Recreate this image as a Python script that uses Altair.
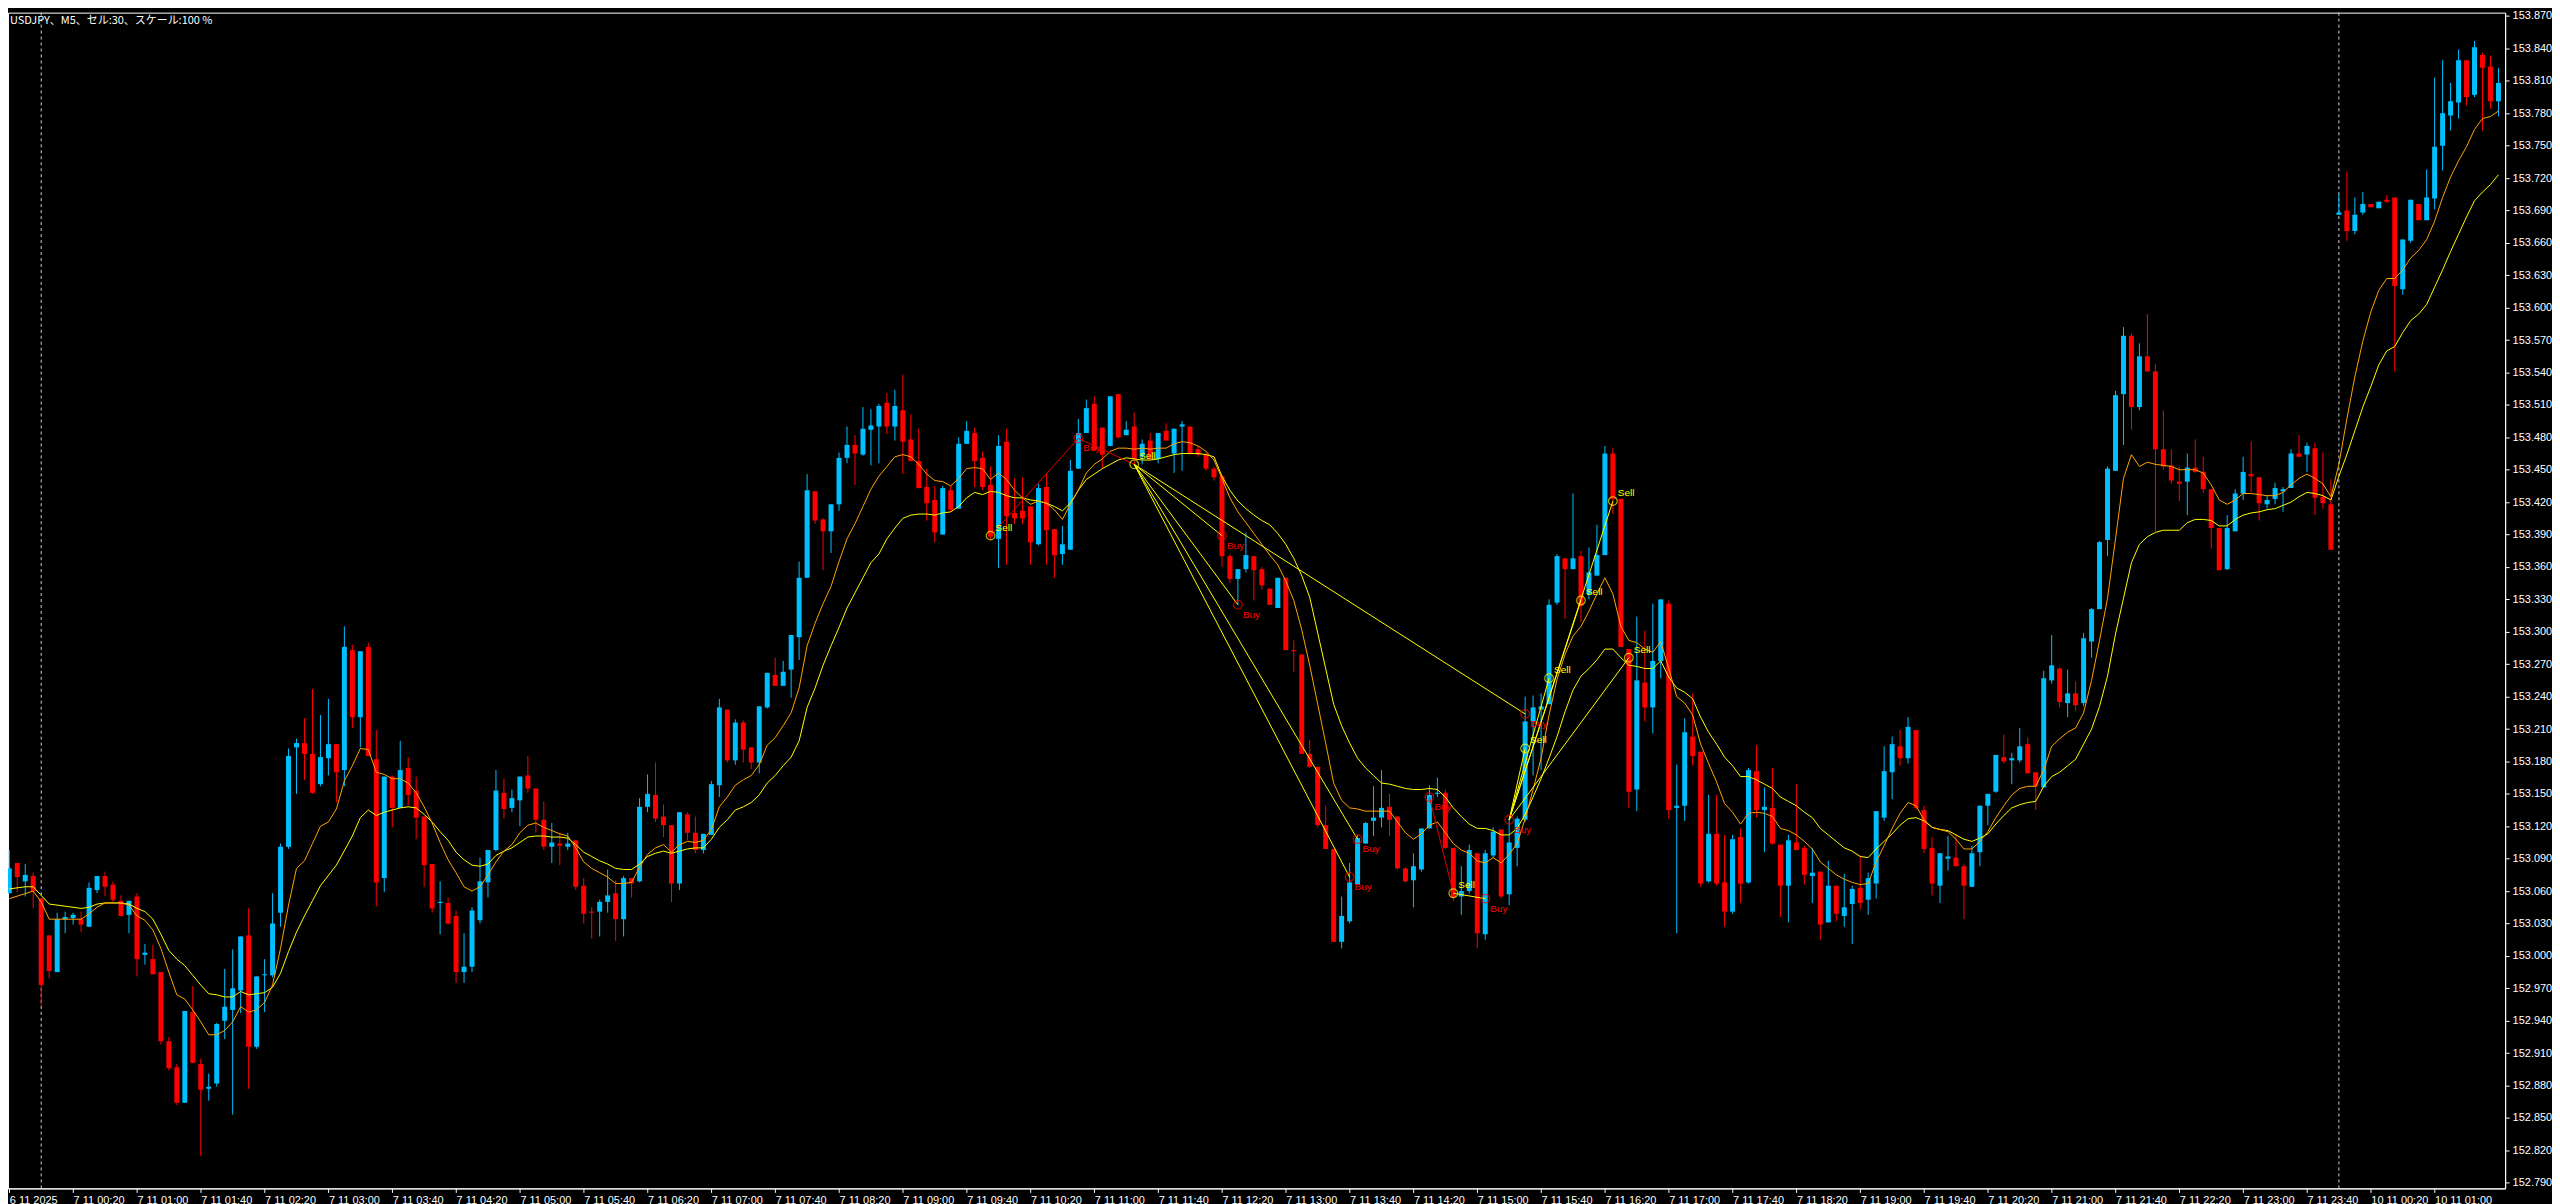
import json
import altair as alt
import pandas as pd

# ---------------- data (USDJPY M5) ----------------
opens = [
153.058,153.086,153.069,153.074,153.053,153.019,152.985,153.034,153.035,153.034,
153.027,153.061,153.074,153.066,153.051,153.038,153.055,153.001,152.997,152.985,
152.921,152.897,152.864,152.948,152.900,152.877,152.882,152.940,152.950,152.968,
153.019,152.916,152.982,152.982,153.040,153.101,153.193,153.197,153.187,153.159,
153.183,153.196,153.172,153.283,153.221,153.286,153.182,153.072,153.166,153.137,
153.174,153.153,153.129,153.085,153.049,153.049,153.037,152.985,152.990,153.033,
153.068,153.098,153.151,153.137,153.144,153.167,153.155,153.126,153.101,153.104,
153.101,153.107,153.065,153.041,153.041,153.050,153.058,153.034,153.072,153.069,
153.138,153.149,153.129,153.121,153.067,153.131,153.114,153.098,153.112,153.158,
153.228,153.181,153.216,153.193,153.179,153.230,153.260,153.250,153.265,153.295,
153.350,153.430,153.404,153.393,153.418,153.461,153.473,153.464,153.487,153.490,
153.512,153.490,153.505,153.478,153.458,153.434,153.422,153.390,153.431,153.414,
153.474,153.484,153.461,153.436,153.386,153.476,153.410,153.412,153.416,153.381,
153.434,153.395,153.372,153.376,153.451,153.484,153.511,153.489,153.472,153.520,
153.482,153.490,153.462,153.477,153.460,153.486,153.465,153.490,153.490,153.469,
153.464,153.451,153.444,153.370,153.349,153.358,153.370,153.358,153.340,153.322,
153.350,153.283,153.279,153.187,153.175,153.121,153.099,153.013,153.032,153.066,
153.104,153.125,153.128,153.138,153.129,153.081,153.070,153.080,153.118,153.150,
153.151,153.100,153.055,153.060,153.095,153.020,153.093,153.117,153.057,153.100,
153.126,153.217,153.228,153.233,153.327,153.368,153.358,153.370,153.335,153.352,
153.371,153.465,153.423,153.284,153.154,153.253,153.230,153.273,153.326,153.137,
153.139,153.203,153.189,153.069,153.113,153.068,153.041,153.110,153.068,153.171,
153.135,153.137,153.103,153.065,153.105,153.100,153.074,153.078,153.031,153.065,
153.037,153.048,153.063,153.052,153.067,153.128,153.170,153.194,153.183,153.209,
153.135,153.100,153.065,153.090,153.091,153.083,153.064,153.096,153.139,153.152,
153.184,153.181,153.181,153.196,153.170,153.156,153.255,153.266,153.234,153.243,
153.234,153.291,153.321,153.385,153.449,153.520,153.574,153.508,153.555,153.541,
153.469,153.454,153.439,153.439,153.452,153.448,153.432,153.396,153.358,153.393,
153.428,153.446,153.443,153.418,153.423,153.430,153.433,153.465,153.464,153.470,
153.425,153.418,153.686,153.690,153.671,153.688,153.696,153.692,153.700,153.702,
153.617,153.662,153.696,153.681,153.701,153.750,153.778,153.790,153.829,153.797,
153.834,153.823,153.791]
highs = [
153.098,153.086,153.085,153.077,153.053,153.019,153.040,153.041,153.040,153.041,
153.068,153.074,153.078,153.069,153.056,153.051,153.058,153.011,153.010,152.985,
152.925,152.900,152.949,152.972,152.905,152.891,152.938,152.988,153.006,153.018,
153.044,152.981,152.997,153.058,153.104,153.192,153.201,153.220,153.247,153.223,
153.238,153.196,153.305,153.288,153.282,153.290,153.209,153.166,153.167,153.199,
153.184,153.166,153.129,153.085,153.069,153.054,153.042,153.021,153.045,153.091,
153.098,153.172,153.164,153.154,153.166,153.185,153.155,153.143,153.123,153.114,
153.114,153.107,153.072,153.045,153.052,153.080,153.070,153.074,153.072,153.146,
153.168,153.179,153.140,153.121,153.133,153.133,153.129,153.113,153.162,153.238,
153.228,153.219,153.218,153.193,153.231,153.262,153.276,153.273,153.297,153.365,
153.446,153.430,153.405,153.418,153.466,153.490,153.482,153.508,153.506,153.511,
153.521,153.524,153.538,153.501,153.488,153.451,153.435,153.435,153.435,153.480,
153.495,153.489,153.467,153.453,153.482,153.488,153.442,153.443,153.416,153.437,
153.447,153.395,153.398,153.459,153.497,153.515,153.518,153.489,153.518,153.520,
153.495,153.503,153.478,153.484,153.484,153.493,153.488,153.495,153.490,153.472,
153.466,153.453,153.445,153.372,153.358,153.392,153.370,153.360,153.340,153.350,
153.350,153.292,153.279,153.200,153.175,153.139,153.099,153.055,153.086,153.112,
153.124,153.157,153.172,153.150,153.129,153.082,153.095,153.118,153.158,153.165,
153.154,153.100,153.083,153.103,153.095,153.098,153.119,153.117,153.127,153.129,
153.240,153.241,153.243,153.330,153.372,153.368,153.428,153.375,153.378,153.399,
153.472,153.470,153.423,153.284,153.314,153.301,153.326,153.330,153.329,153.177,
153.220,153.243,153.189,153.149,153.149,153.112,153.112,153.118,153.174,153.195,
153.156,153.174,153.103,153.112,153.159,153.102,153.100,153.078,153.088,153.065,
153.076,153.065,153.093,153.077,153.134,153.194,153.203,153.209,153.221,153.209,
153.139,153.110,153.095,153.111,153.113,153.085,153.102,153.139,153.150,153.186,
153.205,153.188,153.211,153.202,153.170,153.264,153.297,153.267,153.265,153.254,
153.299,153.322,153.384,153.453,153.523,153.582,153.576,153.567,153.594,153.548,
153.505,153.469,153.453,153.465,153.478,153.462,153.432,153.396,153.408,153.432,
153.462,153.476,153.443,153.426,153.438,153.434,153.469,153.482,153.475,153.475,
153.466,153.441,153.705,153.726,153.702,153.707,153.696,153.698,153.704,153.702,
153.663,153.700,153.696,153.728,153.813,153.829,153.808,153.839,153.829,153.847,
153.836,153.833,153.822]
lows = [
153.058,153.059,153.055,153.044,152.954,152.979,152.985,153.021,153.029,153.022,
153.027,153.058,153.055,153.050,153.037,153.021,152.981,152.992,152.983,152.918,
152.894,152.862,152.864,152.901,152.815,152.866,152.879,152.923,152.853,152.947,
152.877,152.914,152.948,152.980,153.027,153.099,153.150,153.163,153.150,153.157,
153.167,153.142,153.157,153.211,153.193,153.185,153.046,153.059,153.119,153.137,
153.139,153.108,153.064,153.040,153.020,153.029,152.975,152.975,152.985,153.030,
153.054,153.097,153.127,153.133,153.120,153.151,153.114,153.098,153.086,153.084,
153.098,153.061,153.030,153.016,153.018,153.040,153.014,153.018,153.054,153.068,
153.133,153.124,153.110,153.050,153.061,153.107,153.095,153.095,153.112,153.147,
153.179,153.177,153.179,153.173,153.169,153.229,153.250,153.250,153.239,153.274,
153.350,153.400,153.357,153.373,153.412,153.456,153.436,153.463,153.454,153.456,
153.483,153.477,153.446,153.458,153.433,153.403,153.383,153.390,153.411,153.414,
153.474,153.434,153.431,153.385,153.359,153.362,153.400,153.400,153.362,153.380,
153.362,153.350,153.362,153.376,153.451,153.484,153.468,153.451,153.472,153.479,
153.482,153.455,153.455,153.459,153.456,153.477,153.447,153.449,153.464,153.462,
153.449,153.440,153.360,153.345,153.325,153.355,153.329,153.339,153.325,153.322,
153.283,153.263,153.187,153.174,153.119,153.099,153.013,153.007,153.030,153.066,
153.104,153.111,153.119,153.111,153.080,153.068,153.045,153.078,153.118,153.147,
153.099,153.051,153.038,153.058,153.007,153.015,153.091,153.053,153.047,153.083,
153.124,153.167,153.172,153.233,153.325,153.312,153.358,153.309,153.330,153.352,
153.371,153.409,153.286,153.137,153.134,153.217,153.206,153.257,153.127,153.021,
153.125,153.176,153.064,153.068,153.065,153.027,153.039,153.049,153.067,153.128,
153.096,153.103,153.036,153.031,153.098,153.066,153.049,153.015,153.031,153.032,
153.027,153.011,153.043,153.038,153.053,153.125,153.145,153.176,153.178,153.135,
153.095,153.056,153.049,153.079,153.083,153.034,153.064,153.083,153.121,153.151,
153.178,153.159,153.179,153.169,153.135,153.156,153.252,153.230,153.221,153.227,
153.231,153.276,153.321,153.370,153.449,153.473,153.487,153.505,153.541,153.393,
153.450,153.437,153.421,153.408,153.447,153.429,153.377,153.357,153.357,153.393,
153.422,153.429,153.403,153.414,153.418,153.411,153.433,153.462,153.448,153.408,
153.414,153.376,153.686,153.662,153.668,153.686,153.693,153.692,153.697,153.541,
153.612,153.660,153.681,153.681,153.691,153.727,153.764,153.775,153.787,153.795,
153.764,153.784,153.777]
closes = [
153.081,153.073,153.075,153.060,152.973,152.986,153.034,153.036,153.038,153.029,
153.063,153.074,153.064,153.052,153.037,153.051,152.997,153.003,152.983,152.921,
152.896,152.864,152.949,152.901,152.876,152.879,152.937,152.953,152.970,153.018,
152.916,152.981,152.983,153.030,153.101,153.185,153.197,153.187,153.151,153.184,
153.196,153.170,153.286,153.221,153.282,153.185,153.068,153.166,153.137,153.172,
153.149,153.128,153.084,153.044,153.050,153.030,152.985,152.990,153.042,153.069,
153.098,153.153,153.136,153.146,153.166,153.155,153.126,153.101,153.105,153.102,
153.104,153.064,153.039,153.040,153.050,153.056,153.034,153.072,153.067,153.138,
153.150,153.127,153.121,153.067,153.133,153.114,153.098,153.113,153.159,153.230,
153.181,153.216,153.191,153.179,153.231,153.262,153.250,153.263,153.297,153.350,
153.431,153.403,153.393,153.418,153.461,153.473,153.465,153.488,153.491,153.509,
153.490,153.509,153.476,153.458,153.433,153.419,153.392,153.433,153.413,153.474,
153.486,153.458,153.434,153.388,153.472,153.407,153.405,153.405,153.383,153.433,
153.394,153.371,153.381,153.449,153.484,153.507,153.468,153.464,153.518,153.480,
153.487,153.460,153.474,153.460,153.484,153.477,153.488,153.492,153.465,153.464,
153.451,153.443,153.370,153.349,153.358,153.371,153.357,153.343,153.325,153.350,
153.283,153.282,153.187,153.175,153.121,153.099,153.013,153.037,153.068,153.109,
153.123,153.128,153.137,153.126,153.081,153.069,153.083,153.118,153.149,153.151,
153.100,153.054,153.060,153.098,153.021,153.095,153.115,153.055,153.105,153.127,
153.217,153.230,153.231,153.325,153.370,153.358,153.368,153.324,153.355,153.371,
153.465,153.423,153.286,153.152,153.255,153.230,153.273,153.330,153.135,153.139,
153.207,153.185,153.067,153.113,153.067,153.041,153.108,153.067,153.172,153.135,
153.138,153.104,153.065,153.107,153.098,153.075,153.077,153.029,153.065,153.039,
153.045,153.062,153.049,153.072,153.134,153.171,153.196,153.183,153.212,153.137,
153.099,153.067,153.095,153.092,153.083,153.065,153.095,153.139,153.150,153.186,
153.180,153.183,153.194,153.169,153.157,153.257,153.269,153.235,153.243,153.232,
153.294,153.321,153.383,153.451,153.519,153.574,153.508,153.555,153.541,153.469,
153.453,153.440,153.437,153.452,153.448,153.432,153.396,153.357,153.396,153.428,
153.448,153.444,153.419,153.422,153.433,153.432,153.465,153.462,153.472,153.424,
153.419,153.376,153.688,153.671,153.686,153.696,153.693,153.698,153.698,153.620,
153.663,153.700,153.681,153.702,153.749,153.780,153.791,153.829,153.795,153.841,
153.822,153.791,153.808]

N = None
ma_fast = [
153.053,N,N,153.060,153.050,153.034,N,153.034,N,153.034,
153.039,153.045,153.049,N,153.049,153.047,153.037,153.033,153.024,153.007,
152.985,152.964,152.960,152.950,152.939,152.927,152.927,152.931,152.939,152.953,
152.948,152.950,152.957,152.973,153.007,153.047,153.081,153.088,153.104,153.120,
153.124,153.136,153.162,153.176,153.192,153.191,153.170,153.168,153.164,153.164,
153.160,153.151,153.138,153.123,153.105,153.089,153.077,153.064,153.060,153.064,
153.075,153.087,153.097,153.103,153.114,153.121,153.123,153.119,153.116,153.113,
153.111,153.100,153.087,153.081,153.077,153.073,153.067,153.067,153.068,153.082,
153.094,153.100,153.103,153.096,153.103,153.106,153.105,153.107,153.117,153.138,
153.147,153.158,153.163,153.167,153.177,153.195,153.202,153.213,153.225,153.248,
153.287,153.308,153.326,153.342,153.365,153.386,153.400,153.416,153.432,153.444,
153.453,153.462,153.464,153.462,153.455,153.446,153.440,153.439,153.435,153.442,
153.451,153.452,153.451,153.441,153.447,153.441,153.431,153.424,153.418,153.421,
153.419,153.413,153.404,153.418,153.431,153.447,153.455,153.460,153.467,153.470,
153.470,153.469,153.470,153.469,153.470,153.470,153.474,153.476,153.475,153.472,
153.467,153.459,153.442,153.424,153.411,153.401,153.391,153.381,153.371,153.362,
153.347,153.329,153.302,153.269,153.233,153.197,153.160,153.144,153.137,153.136,
153.134,153.134,153.134,153.134,153.124,153.114,153.108,153.113,153.121,153.124,
153.114,153.104,153.098,153.095,153.088,153.086,153.091,153.086,153.094,153.104,
153.127,153.154,153.183,153.223,153.256,153.279,153.296,153.305,153.319,153.335,
153.350,153.335,153.305,153.292,153.290,153.284,153.281,153.291,153.266,153.240,
153.234,153.223,153.196,153.178,153.161,153.141,153.133,153.122,153.132,153.133,
153.132,153.129,153.118,153.116,153.112,153.106,153.099,153.087,153.081,153.075,
153.071,153.068,153.066,153.067,153.087,153.102,153.118,153.132,153.142,153.139,
153.126,153.119,153.117,153.115,153.108,153.099,153.099,153.106,153.115,153.128,
153.139,153.149,153.155,153.157,153.157,153.172,153.194,153.201,153.207,153.211,
153.225,153.255,153.292,153.331,153.386,153.442,153.464,153.453,153.457,153.455,
153.454,153.453,153.450,153.450,153.450,153.447,153.436,153.422,153.418,153.422,
153.428,153.428,153.427,153.426,153.426,153.429,153.436,153.442,153.446,153.442,
153.437,153.425,153.455,153.497,153.536,153.569,153.596,153.616,153.627,153.627,
153.635,153.646,153.653,153.663,153.680,153.702,153.721,153.736,153.749,153.765,
153.775,153.777,153.782]
ma_slow = [
153.062,N,153.064,153.064,153.056,153.048,N,153.046,N,153.044,
153.045,153.048,153.049,N,153.049,153.048,153.044,153.041,153.034,153.020,
153.005,152.997,152.991,152.982,152.973,152.965,152.964,152.962,152.962,152.967,
152.964,152.965,152.966,152.971,152.984,153.004,153.022,153.037,153.051,153.065,
N,153.084,N,153.111,153.128,153.135,153.130,153.133,N,153.137,
153.138,153.137,153.131,153.124,153.115,153.107,153.096,153.089,153.084,153.083,
153.085,153.093,153.097,153.100,153.105,153.110,153.111,153.111,153.110,153.110,
153.109,153.103,153.096,153.092,153.088,153.085,153.081,153.080,153.080,153.085,
153.092,153.095,153.097,153.095,153.097,153.099,153.100,153.100,153.108,153.119,
153.126,153.135,153.138,153.142,153.149,153.160,153.167,153.176,153.184,153.199,
153.230,153.248,153.269,153.287,153.304,153.322,153.336,153.350,153.364,153.372,
153.386,153.396,153.405,153.408,153.409,153.409,153.408,153.410,153.411,153.416,
153.424,153.429,153.427,153.430,153.429,153.426,153.424,153.424,153.422,153.421,
153.419,153.416,153.412,153.419,153.431,153.441,153.446,153.451,153.455,153.459,
153.461,153.460,153.459,153.459,153.460,153.462,153.464,153.465,153.465,153.465,
153.464,153.462,153.444,153.431,153.421,153.414,153.408,153.403,153.399,153.391,
153.381,153.368,153.352,153.332,153.299,153.266,153.233,153.213,153.197,153.183,
153.174,153.167,153.160,153.159,153.157,153.155,153.154,153.154,153.155,153.154,
153.147,153.137,153.129,153.122,153.118,153.118,153.116,153.112,153.112,153.118,
153.131,153.147,153.164,153.183,153.203,153.226,153.246,153.259,153.266,153.274,
153.284,153.284,153.276,153.269,153.268,153.266,153.266,153.273,153.258,153.248,
153.244,153.238,153.221,153.207,153.196,153.184,153.176,153.166,153.166,153.163,
153.159,153.155,153.147,153.143,153.139,153.133,153.128,153.118,153.112,153.106,
153.100,153.097,153.092,153.091,153.099,153.106,153.113,153.121,153.127,153.128,
153.125,153.119,153.117,153.116,153.112,153.108,153.106,153.109,153.113,153.122,
153.130,153.137,153.140,153.142,153.143,153.157,153.166,153.170,153.176,153.182,
153.196,153.210,153.231,153.259,153.298,153.331,153.364,153.381,153.388,153.392,
153.394,153.394,153.394,153.401,153.404,153.404,153.403,153.398,153.398,153.404,
153.408,153.410,153.411,153.413,153.414,153.417,153.420,153.425,153.429,153.428,
153.426,153.422,153.444,153.464,153.486,153.508,153.527,153.547,153.560,153.564,
153.577,153.588,153.594,153.603,153.619,153.635,153.652,153.668,153.684,153.699,
153.707,153.714,153.723]

tick_labels = [
"6 11 2025","7 11 00:20","7 11 01:00","7 11 01:40","7 11 02:20","7 11 03:00",
"7 11 03:40","7 11 04:20","7 11 05:00","7 11 05:40","7 11 06:20","7 11 07:00",
"7 11 07:40","7 11 08:20","7 11 09:00","7 11 09:40","7 11 10:20","7 11 11:00",
"7 11 11:40","7 11 12:20","7 11 13:00","7 11 13:40","7 11 14:20","7 11 15:00",
"7 11 15:40","7 11 16:20","7 11 17:00","7 11 17:40","7 11 18:20","7 11 19:00",
"7 11 19:40","7 11 20:20","7 11 21:00","7 11 21:40","7 11 22:20","7 11 23:00",
"7 11 23:40","10 11 00:20","10 11 01:00"]
tick_bars = [0,8,16,24,32,40,48,56,64,72,80,88,96,104,112,120,128,136,144,152,
             160,168,176,184,192,200,208,216,224,232,240,248,256,264,272,280,288,296,304]
price_ticks = [152.790,152.820,152.850,152.880,152.910,152.940,152.970,153.000,153.030,
               153.060,153.090,153.120,153.150,153.180,153.210,153.240,153.270,153.300,
               153.330,153.360,153.390,153.420,153.450,153.480,153.510,153.540,153.570,
               153.600,153.630,153.660,153.690,153.720,153.750,153.780,153.810,153.840,153.870]
day_breaks = [4, 292]

mark_bar_idx = [123,134,141,152,154,168,169,178,181,185,188,190,190,193,197,201,203]
mark_price = [153.389,153.479,153.455,153.389,153.325,153.073,153.108,153.147,153.058,
              153.053,153.126,153.224,153.192,153.257,153.329,153.421,153.276]
mark_side = ["Sell","Buy","Sell","Buy","Buy","Buy","Buy","Buy","Sell","Buy","Buy",
             "Buy","Sell","Sell","Sell","Sell","Sell"]
# trade connection lines: (from marker, to marker, kind)
trade_from = [0,1,2,2,2,2,2,7,8,10,10,10,10,10]
trade_to   = [1,2,3,4,5,6,11,8,9,12,13,14,15,16]
trade_kind = ["r","r","y","y","y","y","y","r","y","y","y","y","y","y"]

title_text = "USDJPY、M5、セル:30、スケール:100 %"

# ---------------- frames ----------------
n = len(opens)
candles = pd.DataFrame({"k": list(range(n)), "open": opens, "high": highs,
                        "low": lows, "close": closes})
ma_df = pd.DataFrame({"k": list(range(n)), "fast": ma_fast, "slow": ma_slow})
fast_df = ma_df[["k", "fast"]].dropna()
slow_df = ma_df[["k", "slow"]].dropna()
marks = pd.DataFrame({"k": mark_bar_idx, "p": mark_price, "side": mark_side})
tl = pd.DataFrame({
    "x1": [mark_bar_idx[a] for a in trade_from], "y1": [mark_price[a] for a in trade_from],
    "x2": [mark_bar_idx[b] for b in trade_to], "y2": [mark_price[b] for b in trade_to],
    "kind": trade_kind})
seps = pd.DataFrame({"k": day_breaks})

# ---------------- scales / axes ----------------
W, H = 2504, 1179
xscale = alt.Scale(domain=[-0.1625, 312.8375], nice=False, zero=False, padding=0)
yscale = alt.Scale(domain=[152.7848, 153.8731], nice=False, zero=False, padding=0)

label_expr = "%s[round(datum.value / 8)]" % json.dumps(tick_labels, ensure_ascii=False)
xaxis = alt.Axis(values=tick_bars, labelExpr=label_expr, title=None, grid=False,
                 orient="bottom", labelAlign="left", labelBaseline="top",
                 labelPadding=2, labelFlush=False, labelOverlap=False, tickSize=4,
                 tickColor="#FFFFFF", domainColor="#FFFFFF", labelColor="#FFFFFF",
                 labelFont="Liberation Sans Narrow, Liberation Sans, Arial, sans-serif",
                 labelFontSize=11, labelBound=False)
yaxis = alt.Axis(values=price_ticks, format=".3f", title=None, grid=False,
                 orient="right", labelPadding=3, tickSize=4, labelFlush=False,
                 labelOverlap=False, tickColor="#FFFFFF", domainColor="#FFFFFF",
                 labelColor="#FFFFFF", labelFont="Liberation Sans, Arial, sans-serif",
                 labelFontSize=11)

def X(field):
    return alt.X(field, type="quantitative", scale=xscale, axis=xaxis)

def Y(field):
    return alt.Y(field, type="quantitative", scale=yscale, axis=yaxis)

BULL = "#00BFFF"
BEAR = "#FF0000"
col = alt.condition("datum.close >= datum.open", alt.value(BULL), alt.value(BEAR))

sep_layer = alt.Chart(seps).mark_rule(color="#D0D0D0", strokeDash=[3, 3], strokeWidth=1).encode(
    x=X("k"))

wicks = alt.Chart(candles).mark_rule(strokeWidth=1, clip=True).encode(
    x=X("k"), y=Y("low"), y2="high", color=col)

bodies = alt.Chart(candles).mark_bar(size=5, clip=True).encode(
    x=X("k"), y=Y("open"), y2="close", color=col)

slow_line = alt.Chart(slow_df).mark_line(color="#FFFF00", strokeWidth=1, clip=True).encode(
    x=X("k"), y=Y("slow"))
fast_line = alt.Chart(fast_df).mark_line(color="#FFA500", strokeWidth=1, clip=True).encode(
    x=X("k"), y=Y("fast"))

trade_lines = alt.Chart(tl).mark_rule(strokeWidth=1, clip=True).encode(
    x=X("x1"), y=Y("y1"), x2="x2", y2="y2",
    color=alt.condition("datum.kind == 'r'", alt.value("#E00000"), alt.value("#FFFF00")))

circles = alt.Chart(marks).mark_point(shape="circle", filled=False, size=75,
                                      strokeWidth=1.2, clip=True).encode(
    x=X("k"), y=Y("p"),
    color=alt.condition("datum.side == 'Sell'", alt.value("#FFFF00"), alt.value("#FF0000")))

sell_text = alt.Chart(marks).transform_filter("datum.side == 'Sell'").mark_text(
    align="left", baseline="middle", dx=5, dy=-8, fontSize=10, color="#FFFF00",
    font="Liberation Sans, Arial, sans-serif").encode(x=X("k"), y=Y("p"), text="side:N")
buy_text = alt.Chart(marks).transform_filter("datum.side == 'Buy'").mark_text(
    align="left", baseline="middle", dx=5, dy=10, fontSize=10, color="#FF0000",
    font="Liberation Sans, Arial, sans-serif").encode(x=X("k"), y=Y("p"), text="side:N")

title_layer = alt.Chart(pd.DataFrame({"t": [title_text]})).mark_text(
    align="left", baseline="middle", fontSize=11, color="#FFFFFF",
    font="Noto Sans CJK JP, sans-serif").encode(
    x=alt.value(2), y=alt.value(8), text="t:N")

chart = alt.layer(sep_layer, wicks, bodies, slow_line, fast_line, trade_lines,
                  circles, sell_text, buy_text, title_layer).properties(
    width=W, height=H, padding=0, background="#000000"
).configure_view(fill="#000000", stroke="#FFFFFF", strokeWidth=1)

chart.save("out.html", embed_options={"renderer": "svg", "actions": False})
